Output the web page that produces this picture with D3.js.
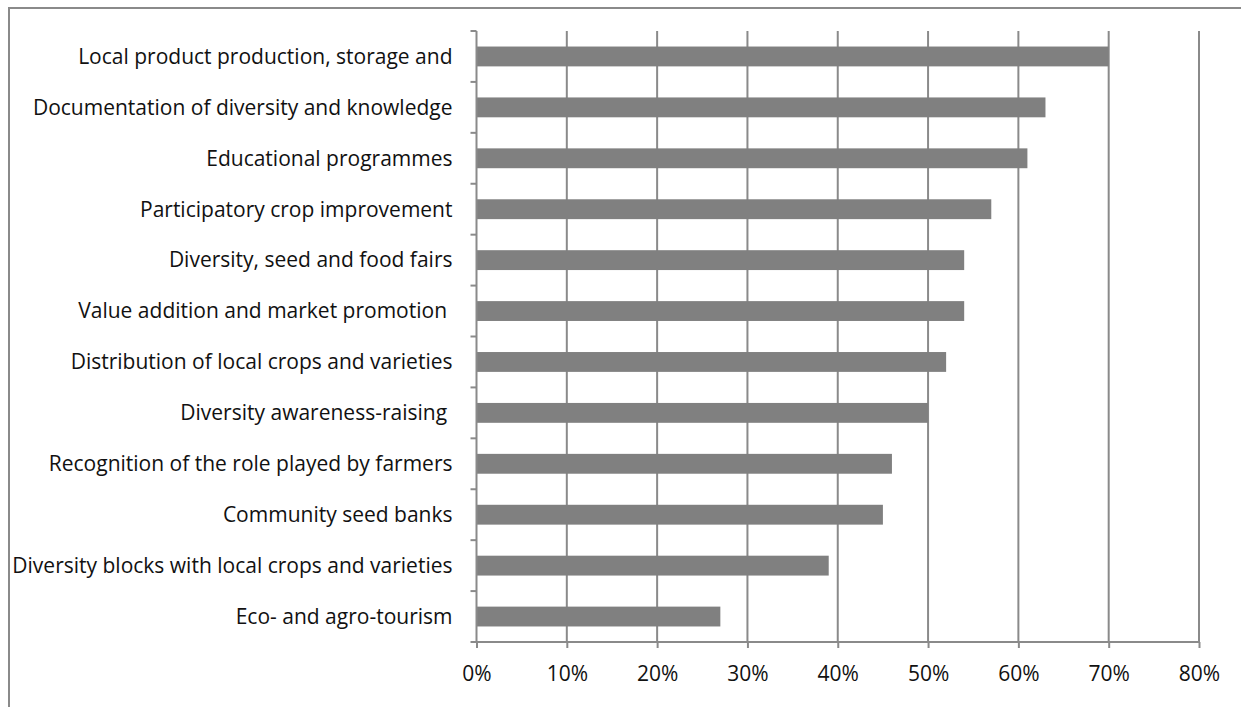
<!DOCTYPE html>
<html>
<head>
<meta charset="utf-8">
<script src="https://cdn.jsdelivr.net/npm/d3@7"></script>
<style>
  html, body { margin: 0; padding: 0; background: #fff; }
  svg text { font-family: "Open Sans", Lato, sans-serif; fill: #111; white-space: pre; }
</style>
</head>
<body>
<svg id="chart" width="1241" height="707"></svg>
<script>
// Share of communities reporting each activity
const categories = [
  "Local product production, storage and",
  "Documentation of diversity and knowledge",
  "Educational programmes",
  "Participatory crop improvement",
  "Diversity, seed and food fairs",
  "Value addition and market promotion ",
  "Distribution of local crops and varieties",
  "Diversity awareness-raising ",
  "Recognition of the role played by farmers",
  "Community seed banks",
  "Diversity blocks with local crops and varieties",
  "Eco- and agro-tourism"
];
const values = [70, 63, 61, 57, 54, 54, 52, 50, 46, 45, 39, 27];
const tickValues = [0, 10, 20, 30, 40, 50, 60, 70, 80];

const svg = d3.select("#chart");
const margin = { top: 31, right: 42, bottom: 65, left: 476.5 };
const W = 1241, H = 707;
const plotW = W - margin.left - margin.right;
const plotH = H - margin.top - margin.bottom;
const lineColor = "#8a8a8a";
const fontSize = 21;

// outer frame (top and left edges)
svg.append("path")
  .attr("d", `M9,${H} V8 H${W}`)
  .attr("fill", "none")
  .attr("stroke", lineColor)
  .attr("stroke-width", 2);

const g = svg.append("g").attr("transform", `translate(${margin.left},${margin.top})`);

const x = d3.scaleLinear().domain([0, 80]).range([0, plotW]);
const y = d3.scaleBand().domain(categories).range([0, plotH]).paddingInner(0.61).paddingOuter(0.305);
const yb = d3.scaleBand().domain(categories).range([0, plotH]);

// vertical gridlines
g.append("g").selectAll("line").data(tickValues.slice(1)).join("line")
  .attr("x1", d => x(d)).attr("x2", d => x(d))
  .attr("y1", 0).attr("y2", plotH)
  .attr("stroke", lineColor).attr("stroke-width", 2);

// bars
g.append("g").selectAll("rect").data(values).join("rect")
  .attr("x", 0)
  .attr("y", (d, i) => y(categories[i]))
  .attr("width", d => x(d))
  .attr("height", y.bandwidth())
  .attr("fill", "#808080");

// x axis
const xAxis = d3.axisBottom(x).tickValues(tickValues).tickFormat(d => d + "%").tickSize(6).tickPadding(18);
const xg = g.append("g").attr("transform", `translate(0,${plotH})`).call(xAxis);
xg.select(".domain").attr("stroke", lineColor).attr("stroke-width", 2).attr("d", `M0,0H${plotW}`);
xg.selectAll(".tick line").attr("stroke", lineColor).attr("stroke-width", 2);
xg.selectAll(".tick text").attr("font-size", fontSize).attr("font-family", "'Open Sans', sans-serif").attr("fill", "#111");

// y axis: ticks at category boundaries
g.append("line")
  .attr("x1", 0).attr("x2", 0).attr("y1", 0).attr("y2", plotH)
  .attr("stroke", lineColor).attr("stroke-width", 2);
const bounds = d3.range(categories.length + 1).map(i => i * yb.step());
g.append("g").selectAll("line").data(bounds).join("line")
  .attr("x1", -6).attr("x2", 0)
  .attr("y1", d => d).attr("y2", d => d)
  .attr("stroke", lineColor).attr("stroke-width", 2);

// category labels
g.append("g").selectAll("text").data(categories).join("text")
  .attr("x", -24)
  .attr("y", d => yb(d) + yb.bandwidth() / 2)
  .attr("dy", "0.35em")
  .attr("text-anchor", "end")
  .attr("font-size", fontSize)
  .text(d => d);
</script>
</body>
</html>
